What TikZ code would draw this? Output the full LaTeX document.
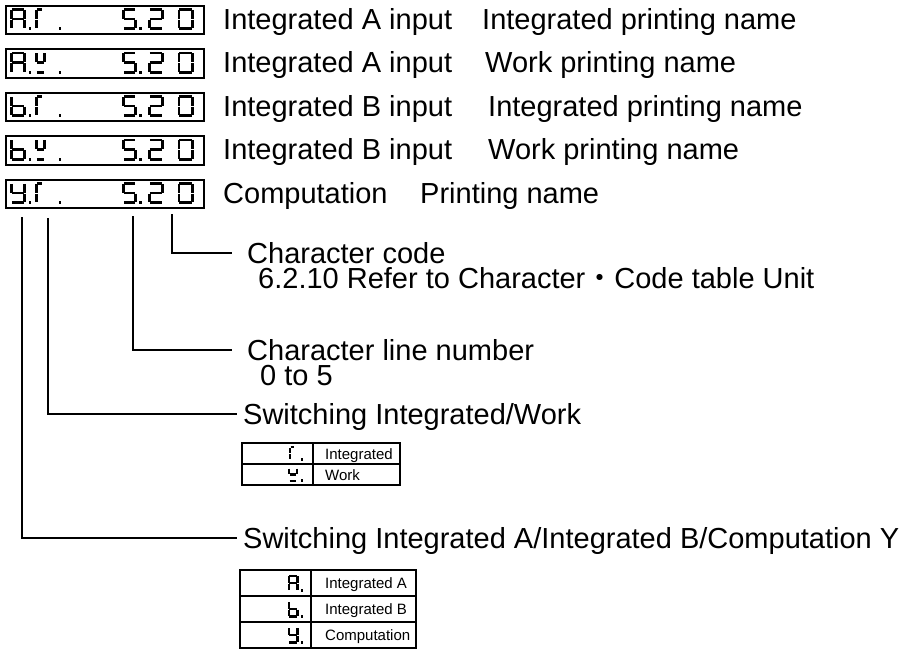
\documentclass[tikz,border=0pt]{standalone}
\usepackage{fontspec}
\setmainfont{Liberation Sans}
\newfontfamily\cjkfont{Noto Sans CJK JP}
\newcommand\SegW{10}
\newcommand\SegH{20}
\newcommand\SegT{2.3}
\newcommand\SegG{0.5}
\pgfkeys{/myseg/.cd,
  a/.code={\draw[seg] (\SegT/2+\SegG,\SegT/2) -- (\SegW-\SegT/2-\SegG,\SegT/2);},
  g/.code={\draw[seg] (\SegT/2+\SegG,\SegH/2) -- (\SegW-\SegT/2-\SegG,\SegH/2);},
  d/.code={\draw[seg] (\SegT/2+\SegG,\SegH-\SegT/2) -- (\SegW-\SegT/2-\SegG,\SegH-\SegT/2);},
  f/.code={\draw[seg] (\SegT/2,\SegT/2+\SegG) -- (\SegT/2,\SegH/2-\SegG);},
  b/.code={\draw[seg] (\SegW-\SegT/2,\SegT/2+\SegG) -- (\SegW-\SegT/2,\SegH/2-\SegG);},
  e/.code={\draw[seg] (\SegT/2,\SegH/2+\SegG) -- (\SegT/2,\SegH-\SegT/2-\SegG);},
  c/.code={\draw[seg] (\SegW-\SegT/2,\SegH/2+\SegG) -- (\SegW-\SegT/2,\SegH-\SegT/2-\SegG);},
}
\newcommand\SevSeg[6]{%
  \begin{scope}[shift={(#1,#2)}]
    \renewcommand\SegW{#3}\renewcommand\SegH{#4}\renewcommand\SegT{#5}%
    \foreach \s in {#6}{\pgfkeys{/myseg/\s}}
  \end{scope}}
\newcommand\SegDot[3]{\fill (#1-#3/2,#2-#3/2) rectangle (#1+#3/2,#2+#3/2);}
\newcommand\Disp[4]{%
  \SevSeg{10}{#1+3.5}{16}{22}{2.8}{#2}
  \SegDot{30}{#1+24.1}{2.9}
  \SevSeg{35}{#1+3.5}{#4}{22}{2.8}{#3}
  \SegDot{60}{#1+24.1}{2.9}
  \SevSeg{122}{#1+3.5}{15}{22}{2.8}{a,f,g,c,d}
  \SegDot{140.5}{#1+24.1}{2.9}
  \SevSeg{148}{#1+3.5}{16}{22}{2.8}{a,b,g,e,d}
  \SevSeg{177.5}{#1+3.5}{16}{22}{2.8}{a,b,c,d,e,f}
}
\begin{document}
\begin{tikzpicture}[x=1pt,y=-1pt,
  seg/.style={line width=\SegT pt, line cap=butt},
  dispbox/.style={draw, line width=2.2pt, minimum width=198pt, minimum height=28.5pt, inner sep=0pt, anchor=north west},
  conn/.style={draw, line width=1.5pt},
  lbl/.style={anchor=base west, inner sep=0pt, font=\fontsize{29}{34}\selectfont},
  small/.style={anchor=base west, inner sep=0pt, font=\fontsize{15}{18}\selectfont},
  tabline/.style={draw, line width=1.5pt}
]
\useasboundingbox (0,0) rectangle (907,664);

% display boxes
\node[dispbox] (d1) at (5,4.5) {};
\node[dispbox] (d2) at (5,48) {};
\node[dispbox] (d3) at (5,91.5) {};
\node[dispbox] (d4) at (5,135) {};
\node[dispbox] (d5) at (5,178.5) {};

\Disp{4.5}{a,b,c,e,f,g}{a,e,f}{9}
\Disp{48}{a,b,c,e,f,g}{b,d,f,g}{11}
\Disp{91.5}{c,d,e,f,g}{a,e,f}{9}
\Disp{135}{c,d,e,f,g}{b,d,f,g}{11}
\Disp{178.5}{b,c,d,f,g}{a,e,f}{9}

% row texts
\node[lbl] (r1a) at (223,29) {Integrated A input};
\node[lbl] (r1b) at (482,29) {Integrated printing name};
\node[lbl] (r2a) at (223,72.5) {Integrated A input};
\node[lbl] (r2b) at (485,72.5) {Work printing name};
\node[lbl] (r3a) at (223,116) {Integrated B input};
\node[lbl] (r3b) at (488,116) {Integrated printing name};
\node[lbl] (r4a) at (223,159.5) {Integrated B input};
\node[lbl] (r4b) at (488,159.5) {Work printing name};
\node[lbl] (r5a) at (223,203) {Computation};
\node[lbl] (r5b) at (420,203) {Printing name};

% lower labels
\node[lbl] (cc) at (247,263) {Character code};
\node[lbl] (ccr) at (258,288) {6.2.10 Refer to Character{\cjkfont\smash{・}}Code table Unit};
\node[lbl] (cl) at (247,360) {Character line number};
\node[lbl] (clr) at (260,385) {0 to 5};
\node[lbl] (sw1) at (243,424) {Switching Integrated/Work};
\node[lbl] (sw2) at (243,548) {Switching Integrated A/Integrated B/Computation Y};

% connectors
\coordinate (s1) at (172,214);
\coordinate (s2) at (133,216);
\coordinate (s3) at (48,218);
\coordinate (s4) at (22,217);
\coordinate (e1) at (232,253);
\coordinate (e2) at (232,350);
\coordinate (e3) at (237,414);
\coordinate (e4) at (237,538);
\draw[conn] (s1) |- (e1);
\draw[conn] (s2) |- (e2);
\draw[conn] (s3) |- (e3);
\draw[conn] (s4) |- (e4);

% table 1
\draw[tabline] (242,443) rectangle (400,485);
\draw[tabline] (242,464) -- (400,464);
\draw[tabline] (313,443) -- (313,485);
\SevSeg{289}{446}{7}{15}{2.2}{a,e,f}
\SegDot{302}{459.4}{2.3}
\SevSeg{288}{467}{10}{15}{2.2}{b,d,f,g}
\SegDot{302}{480.4}{2.3}
\node[small] (t1a) at (325,459.5) {Integrated};
\node[small] (t1b) at (325,480.5) {Work};

% table 2
\draw[tabline] (240,570) rectangle (416,648);
\draw[tabline] (240,596) -- (416,596);
\draw[tabline] (240,622) -- (416,622);
\draw[tabline] (311,570) -- (311,648);
\SevSeg{287.5}{574.5}{11}{17}{2.2}{a,b,c,e,f,g}
\SegDot{302}{590.4}{2.3}
\SevSeg{287.5}{600.5}{11}{17}{2.2}{c,d,e,f,g}
\SegDot{302}{616.4}{2.3}
\SevSeg{287.5}{626.5}{11}{17}{2.2}{b,c,d,f,g}
\SegDot{302}{642.4}{2.3}
\node[small] (t2a) at (325,588.5) {Integrated A};
\node[small] (t2b) at (325,614.5) {Integrated B};
\node[small] (t2c) at (325,640.5) {Computation};
\end{tikzpicture}
\end{document}
